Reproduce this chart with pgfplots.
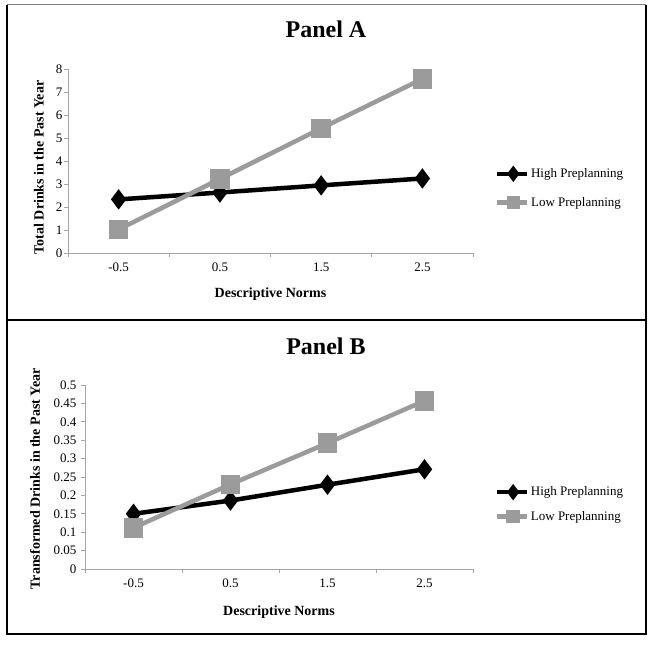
\documentclass[border=0pt]{standalone}
\usepackage{fontspec}
\setmainfont{Liberation Serif}
\usepackage{pgfplots}
\pgfplotsset{compat=1.18}
\definecolor{lowgray}{RGB}{155,155,155}
\definecolor{axgray}{RGB}{165,165,165}
\pgfplotsset{
  panel/.style={
    scale only axis,
    clip=false,
    axis x line*=bottom, axis y line*=left,
    axis line style={axgray, line width=0.8bp},
    xmin=-0.5, xmax=3.5,
    xtick={0,1,2,3}, xticklabels={-0.5,0.5,1.5,2.5},
    minor xtick={-0.5,0.5,1.5,2.5,3.5},
    major tick length=0pt, minor tick length=4bp, tick align=outside,
    tick style={axgray, line width=0.8bp},
    tick label style={font=\fontsize{13bp}{15bp}\selectfont},
    xticklabel style={yshift=-6bp},
    label style={font=\fontsize{14bp}{16bp}\selectfont\bfseries},
    title style={font=\fontsize{24bp}{28bp}\selectfont\bfseries, anchor=center},
    legend style={draw=none, fill=none, anchor=west, inner sep=0pt,
      nodes={inner sep=1.5bp},
      font=\fontsize{13bp}{15bp}\selectfont},
    legend cell align=left,
    legend image code/.code={\draw[mark repeat=2,mark phase=2,mark size=4.5bp] plot coordinates {(0bp,0bp) (16bp,0bp) (30bp,0bp)};},
  },
  high/.style={black, line width=4.5bp, mark=diamond*, mark size=6.5bp, mark options={solid}},
  low/.style={lowgray, line width=4.5bp, mark=square*, mark size=7.5bp, mark options={solid}},
}
\begin{document}
\begin{tikzpicture}
\useasboundingbox (0bp,0bp) rectangle (654bp,646bp);
% Panel A
\begin{axis}[panel,
  at={(68bp,393bp)}, anchor=south west, width=405bp, height=184bp,
  ymin=0, ymax=8, ytick={0,1,2,3,4,5,6,7,8},
  yticklabels={0,1,2,3,4,5,6,7,8},
  minor ytick={0,1,2,3,4,5,6,7,8},
  yticklabel style={xshift=-2bp},
  title={Panel A},
  title style={at={(axis description cs:0.637,1.185)}},
  xlabel={Descriptive Norms},
  ylabel={Total Drinks in the Past Year},
  ylabel style={at={(axis description cs:-0.072,0.465)}, anchor=center},
  xlabel style={at={(axis description cs:0.5,-0.222)}, anchor=center},
  legend style={at={(axis description cs:1.054,0.353)}, row sep=15bp},
]
\addplot[high] coordinates {(0,2.33) (1,2.63) (2,2.94) (3,3.24)};
\addlegendentry{High Preplanning}
\addplot[low] coordinates {(0,1.02) (1,3.22) (2,5.42) (3,7.57)};
\addlegendentry{Low Preplanning}
\end{axis}
% Panel B
\begin{axis}[panel,
  at={(85bp,77bp)}, anchor=south west, width=388bp, height=184bp,
  ymin=0, ymax=0.5,
  ytick={0,0.05,0.1,0.15,0.2,0.25,0.3,0.35,0.4,0.45,0.5},
  yticklabels={0,0.05,0.1,0.15,0.2,0.25,0.3,0.35,0.4,0.45,0.5},
  minor ytick={0,0.05,0.1,0.15,0.2,0.25,0.3,0.35,0.4,0.45,0.5},
  yticklabel style={xshift=-5bp},
  title={Panel B},
  title style={at={(axis description cs:0.621,1.179)}},
  xlabel={Descriptive Norms},
  ylabel={Transformed Drinks in the Past Year},
  ylabel style={at={(axis description cs:-0.129,0.49)}, anchor=center},
  xlabel style={at={(axis description cs:0.5,-0.235)}, anchor=center},
  legend style={at={(axis description cs:1.056,0.351)}, row sep=11bp},
]
\addplot[high] coordinates {(0,0.150) (1,0.186) (2,0.229) (3,0.271)};
\addlegendentry{High Preplanning}
\addplot[low] coordinates {(0,0.112) (1,0.230) (2,0.342) (3,0.457)};
\addlegendentry{Low Preplanning}
\end{axis}
% frames
\draw[gray, line width=1bp] (7bp,641bp) -- (646bp,641bp);
\draw[black, line width=2.5bp] (7bp,641bp) -- (7bp,12bp) -- (646bp,12bp) -- (646bp,641bp);
\draw[black, line width=2bp] (7bp,326bp) -- (646bp,326bp);
\end{tikzpicture}
\end{document}
